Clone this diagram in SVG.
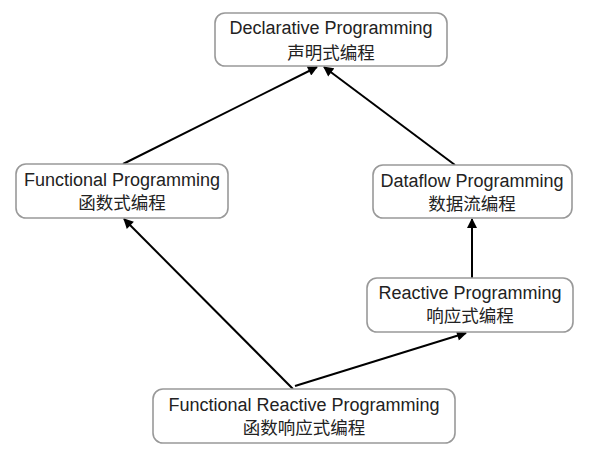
<svg xmlns="http://www.w3.org/2000/svg" width="600" height="457" viewBox="0 0 600 457">
<style>
.box{fill:#fff;stroke:#999;stroke-width:1.6}
.t{font-family:"Liberation Sans","Noto Sans CJK SC",sans-serif;font-size:18px;fill:#222;text-anchor:middle}
.c{font-family:"Noto Sans CJK SC",sans-serif;font-size:17.5px;fill:#222;text-anchor:middle}
.e{stroke:#000;stroke-width:2;fill:none;marker-end:url(#ah)}
</style>
<defs>
<marker id="ah" viewBox="0 0 10 10" refX="9" refY="5" markerWidth="5.5" markerHeight="5" orient="auto" markerUnits="strokeWidth">
<path d="M0,0 L10,5 L0,10 z" fill="#000"/>
</marker>
</defs>
<rect width="600" height="457" fill="#fff"/>
<g id="connectors">
<line class="e" x1="123" y1="164" x2="317" y2="67"/>
<line class="e" x1="455" y1="165" x2="324" y2="67"/>
<line class="e" x1="472" y1="278" x2="472" y2="219"/>
<line class="e" x1="293" y1="389" x2="124" y2="219"/>
<line class="e" x1="295" y1="386" x2="466" y2="333"/>
</g>
<g id="declarative">
<rect class="box" x="215" y="13" width="232" height="53" rx="10"/>
<text class="t" x="331" y="34">Declarative  Programming</text>
<text class="c" x="331" y="59">声明式编程</text>
</g>
<g id="functional">
<rect class="box" x="16" y="164" width="212" height="54" rx="10"/>
<text class="t" x="122" y="186">Functional Programming</text>
<text class="c" x="122" y="209">函数式编程</text>
</g>
<g id="dataflow">
<rect class="box" x="373" y="165" width="199" height="53" rx="10"/>
<text class="t" x="472" y="187">Dataflow Programming</text>
<text class="c" x="472" y="210">数据流编程</text>
</g>
<g id="reactive">
<rect class="box" x="367" y="278" width="206" height="54" rx="10"/>
<text class="t" x="470" y="299">Reactive Programming</text>
<text class="c" x="470" y="322">响应式编程</text>
</g>
<g id="frp">
<rect class="box" x="153" y="389" width="302" height="54" rx="10"/>
<text class="t" x="304" y="411">Functional Reactive Programming</text>
<text class="c" x="304" y="434">函数响应式编程</text>
</g>
</svg>
